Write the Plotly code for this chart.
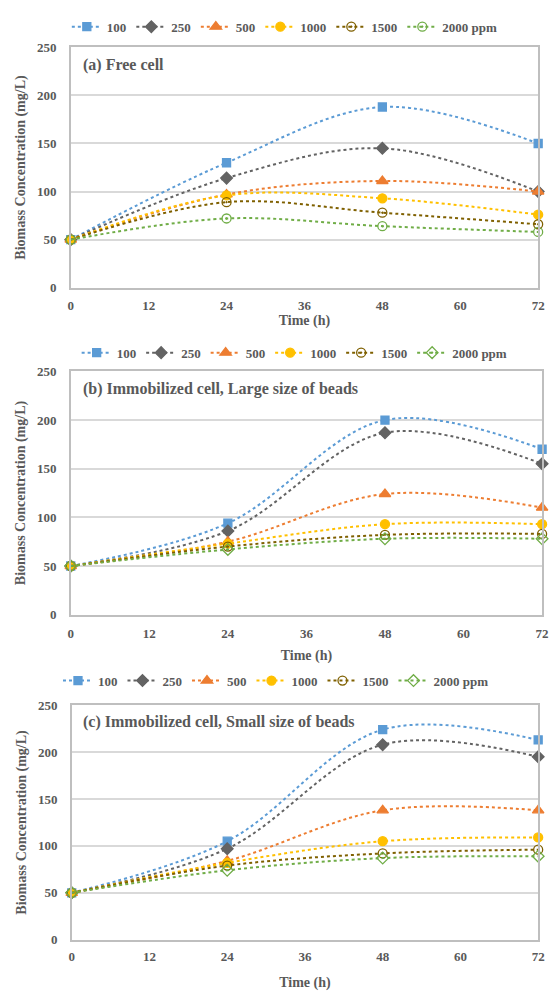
import plotly.graph_objects as go

time_h = [0, 24, 48, 72]
series_names = ["100", "250", "500", "1000", "1500", "2000 ppm"]

# Panel (a) Free cell
free_100 = [50, 130, 188, 150]
free_250 = [50, 114, 145, 100]
free_500 = [50, 97, 111, 100]
free_1000 = [50, 96, 93, 76]
free_1500 = [50, 89, 78, 66]
free_2000 = [50, 72, 64, 58]

# Panel (b) Immobilized cell, large beads
large_100 = [50, 94, 200, 170]
large_250 = [50, 86, 187, 155]
large_500 = [50, 75, 124, 110]
large_1000 = [50, 73, 93, 93]
large_1500 = [50, 70, 82, 83]
large_2000 = [50, 67, 78, 78]

# Panel (c) Immobilized cell, small beads
small_100 = [50, 105, 224, 213]
small_250 = [50, 97, 208, 195]
small_500 = [50, 84, 138, 138]
small_1000 = [50, 82, 105, 109]
small_1500 = [50, 79, 92, 96]
small_2000 = [50, 74, 87, 89]

panel_titles = ["(a) Free cell", "(b) Immobilized cell, Large size of beads",
                "(c) Immobilized cell, Small size of beads"]
x_ticks = [0, 12, 24, 36, 48, 60, 72]
y_ticks = [0, 50, 100, 150, 200, 250]

colors = ["#5B9BD5", "#636363", "#ED7D31", "#FFC000", "#7F6000", "#70AD47"]
symbols_a = ["square", "diamond", "triangle-up", "circle", "circle-open-dot", "circle-open-dot"]
symbols_b = ["square", "diamond", "triangle-up", "circle", "circle-open-dot", "diamond-open-dot"]
symbols_c = ["square", "diamond", "triangle-up", "circle", "circle-open", "diamond-open"]
marker_sizes = [8, 9, 10, 9, 9, 9]

panels = [
    ([free_100, free_250, free_500, free_1000, free_1500, free_2000], symbols_a),
    ([large_100, large_250, large_500, large_1000, large_1500, large_2000], symbols_b),
    ([small_100, small_250, small_500, small_1000, small_1500, small_2000], symbols_c),
]

H = 991.0
W = 554.0
def py(p):
    return 1 - p / H
def px(p):
    return p / W

x_domains = [(px(69), px(545)), (px(69), px(549)), (px(70), px(545))]
y_domains = [(py(285), py(41)), (py(617), py(370)), (py(947), py(709))]
legend_pos = [(px(287), py(20)), (px(297), py(351)), (px(278), py(684))]
title_pos = [(px(79), py(59)), (px(79), py(388)), (px(79), py(726))]
xtitle_standoff = [3, 10, 14]
xtick_standoff = [5, 6, 4]

FONT = "Liberation Serif"
TXT = "#595959"

fig = go.Figure()
legend_ids = ["legend", "legend2", "legend3"]

for i, (data, syms) in enumerate(panels):
    xa = "x" if i == 0 else f"x{i+1}"
    ya = "y" if i == 0 else f"y{i+1}"
    for j, vals in enumerate(data):
        fig.add_trace(go.Scatter(
            x=time_h, y=vals, name=series_names[j],
            mode="lines+markers",
            line=dict(color=colors[j], width=2, dash="dot", shape="spline", smoothing=1),
            marker=dict(symbol=syms[j], size=marker_sizes[j],
                        color=colors[j], line=dict(color=colors[j], width=1.3)),
            xaxis=xa, yaxis=ya, legend=legend_ids[i], cliponaxis=False,
        ))

layout = dict(
    width=554, height=991,
    margin=dict(l=0, r=0, t=0, b=0),
    paper_bgcolor="white", plot_bgcolor="white",
    font=dict(family=FONT, color=TXT, size=13),
    showlegend=True,
)

for i in range(3):
    sfx = "" if i == 0 else str(i + 1)
    layout["xaxis" + sfx] = dict(
        domain=list(x_domains[i]), range=[0, 72], tickvals=x_ticks,
        anchor="y" + sfx, showgrid=False, zeroline=False,
        showline=True, linecolor="#BFBFBF", linewidth=1.5, mirror=True,
        ticks="", ticklabelstandoff=xtick_standoff[i],
        tickfont=dict(family=FONT, size=13, color=TXT, weight="bold"),
        title=dict(text="Time (h)", standoff=xtitle_standoff[i],
                   font=dict(family=FONT, size=14, color=TXT, weight="bold")),
    )
    layout["yaxis" + sfx] = dict(
        domain=list(y_domains[i]), range=[0, 250], tickvals=y_ticks,
        anchor="x" + sfx, showgrid=True, gridcolor="#D9D9D9", gridwidth=1.5, zeroline=False,
        showline=True, linecolor="#BFBFBF", linewidth=1.5, mirror=True,
        ticks="", ticklabelstandoff=10,
        tickfont=dict(family=FONT, size=13, color=TXT, weight="bold"),
        title=dict(text="Biomass Concentration (mg/L)", standoff=8,
                   font=dict(family=FONT, size=14, color=TXT, weight="bold")),
    )
    layout[legend_ids[i]] = dict(
        orientation="h", x=legend_pos[i][0], y=legend_pos[i][1],
        xanchor="center", yanchor="middle", bgcolor="rgba(0,0,0,0)",
        font=dict(family=FONT, size=13, color=TXT, weight="bold"),
        itemwidth=30, tracegroupgap=0,
    )

fig.update_layout(**layout)

for i in range(3):
    fig.add_annotation(
        text=panel_titles[i], xref="paper", yref="paper",
        x=title_pos[i][0], y=title_pos[i][1], xanchor="left", yanchor="middle",
        showarrow=False,
        font=dict(family=FONT, size=16, color=TXT, weight="bold"),
    )

fig.write_html("out.html")
